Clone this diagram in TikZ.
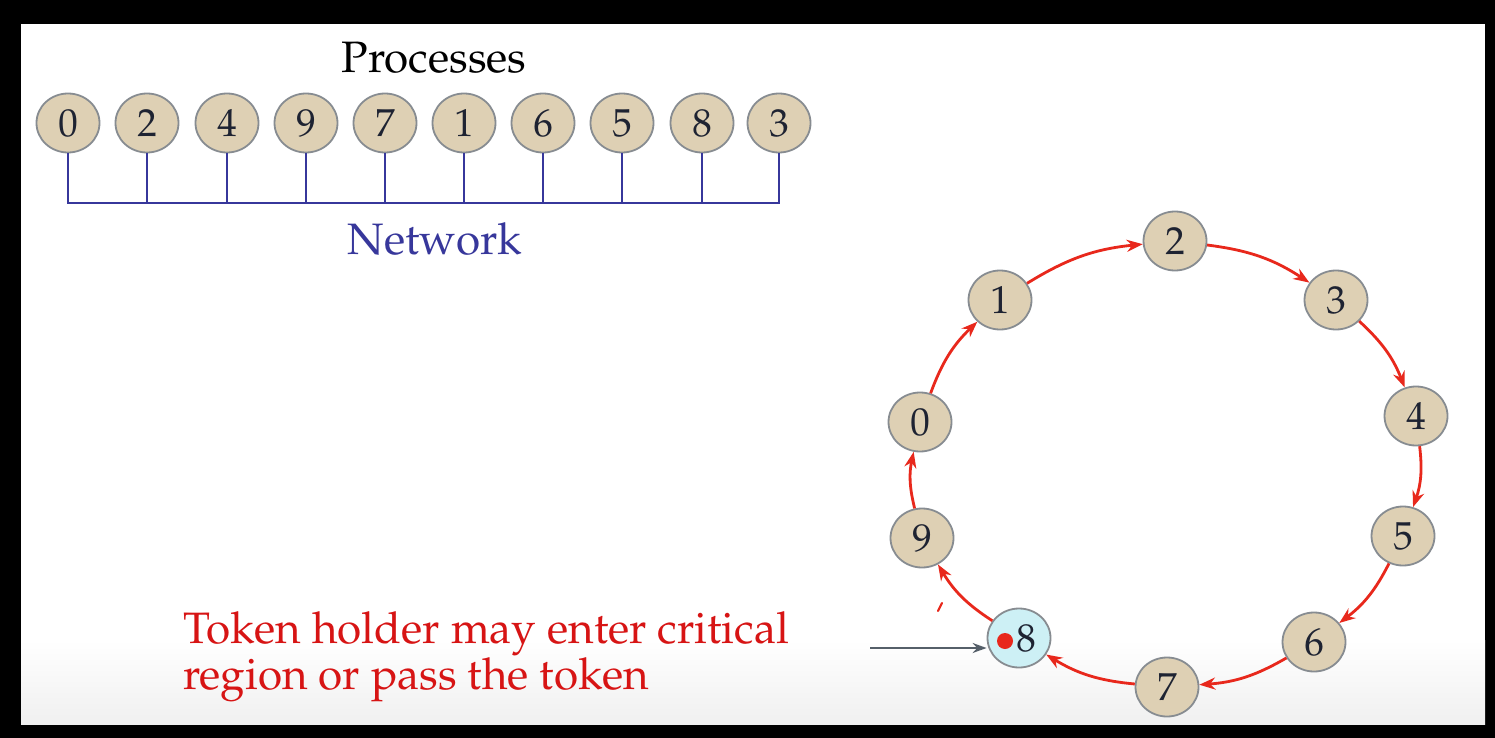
\documentclass[tikz,border=0pt]{standalone}
\usepackage[T1]{fontenc}
\usepackage{mathpazo}
\usetikzlibrary{arrows.meta,shapes.geometric}

\definecolor{tan}{RGB}{222,208,180}
\definecolor{rim}{RGB}{135,140,145}
\definecolor{holder}{RGB}{205,240,245}
\definecolor{bus}{RGB}{55,55,155}
\definecolor{ringred}{RGB}{232,40,28}
\definecolor{notered}{RGB}{215,20,20}
\definecolor{pointer}{RGB}{85,95,105}
\definecolor{digit}{RGB}{30,35,50}

\tikzset{
  proc/.style={ellipse, draw=rim, line width=1.8pt, fill=tan,
    minimum width=63pt, minimum height=59pt, inner sep=0pt,
    text=digit, font=\fontsize{39}{39}\selectfont},
  busline/.style={draw=bus, line width=2.8pt},
  pass/.style={draw=ringred, line width=2.8pt, bend left=13,
    -{Stealth[length=16pt,width=12pt]}},
  bigtext/.style={font=\fontsize{44}{43}\selectfont, inner sep=0pt}
}

\begin{document}
\begin{tikzpicture}[x=1pt,y=-1pt]
  % slide frame
  \fill[black] (0,0) rectangle (1495,738);
  \fill[white] (21,24) rectangle (1485,724);
  \shade[top color=white, bottom color=black!6] (21,640) rectangle (1485,724);
  \useasboundingbox (0,0) rectangle (1495,738);

  % processes on a shared network
  \node[bigtext, anchor=base] (proctitle) at (434,73) {Processes};
  \foreach \lab/\x in {0/68,2/147,4/227,9/306,7/385,1/464,6/543,5/622,8/702,3/779}{
    \node[proc] (p\lab) at (\x,123) {\lab};
    \coordinate (t\lab) at (\x,203);
    \draw[busline] (p\lab.south) -- (t\lab);
  }
  \draw[busline, line cap=rect] (t0) -- (t3);
  \node[bigtext, anchor=base, text=bus] (nettitle) at (435,254) {Network};

  % logical ring
  \node[proc] (r2) at (1175,241) {2};
  \node[proc] (r3) at (1336,300) {3};
  \node[proc] (r4) at (1416,416) {4};
  \node[proc] (r5) at (1403,536) {5};
  \node[proc] (r6) at (1314,642) {6};
  \node[proc] (r7) at (1167,687) {7};
  \node[proc, fill=holder] (r8) at (1019,638) {\hspace{14pt}8};
  \node[proc] (r9) at (922,538) {9};
  \node[proc] (r0) at (920,422) {0};
  \node[proc] (r1) at (1000,300) {1};

  \draw[pass] (r1) to (r2);
  \draw[pass] (r2) to (r3);
  \draw[pass] (r3) to (r4);
  \draw[pass] (r4) to (r5);
  \draw[pass] (r5) to (r6);
  \draw[pass] (r6) to (r7);
  \draw[pass] (r7) to (r8);
  \draw[pass] (r8) to (r9);
  \draw[pass] (r9) to (r0);
  \draw[pass] (r0) to (r1);

  % the token
  \fill[ringred] (r8.center) ++(-14,3) circle (8);
  \draw[ringred, line width=2.2pt, line cap=round] (938,611) -- (942,603);

  % note about the token holder
  \node[bigtext, anchor=base west, align=left, text=notered] (note) at (183,689)
    {Token holder may enter critical\\region or pass the token};
  \coordinate (ptr) at (870,648);
  \draw[draw=pointer, line width=2pt, -{Stealth[length=14pt,width=10pt]}]
    (ptr) -- (ptr -| r8.west);
\end{tikzpicture}
\end{document}
